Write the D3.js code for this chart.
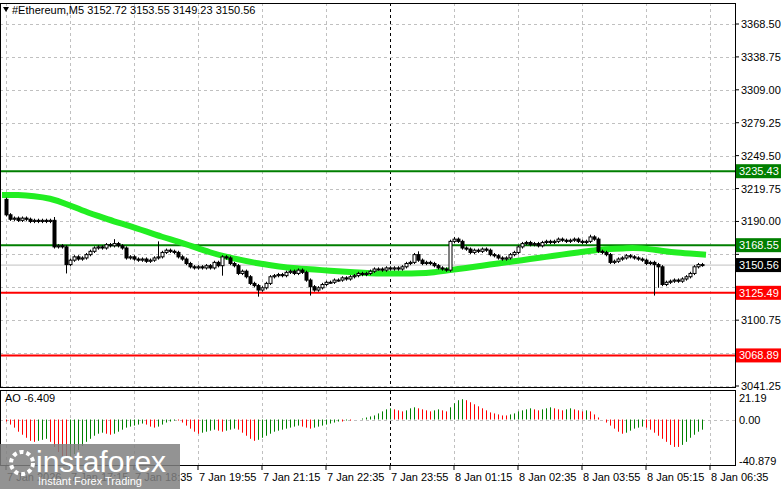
<!DOCTYPE html>
<html><head><meta charset="utf-8">
<script src="https://cdn.jsdelivr.net/npm/d3@7"></script>
<style>body{margin:0;background:#fff}svg{display:block;font-family:"Liberation Sans",Arial,sans-serif}</style>
</head><body><svg id="c" width="781" height="489"></svg>
<script>
const firstOpen = 3210;
const closes = [3196,3192,3193,3191,3193,3192,3190,3191,3190,3191,3190,3191,3167,3168,3167,3151,3155,3158,3156,3157,3160,3163,3166,3167,3166,3169,3168,3170,3168,3166,3157,3158,3156,3155,3156,3154,3155,3157,3158,3162,3164,3163,3162,3158,3156,3152,3149,3148,3149,3148,3150,3148,3153,3150,3158,3157,3152,3150,3143,3145,3140,3134,3132,3128,3130,3134,3140,3141,3142,3141,3144,3145,3143,3146,3144,3137,3131,3128,3130,3133,3135,3135,3137,3137,3139,3138,3140,3141,3143,3142,3143,3145,3147,3147,3146,3148,3147,3148,3147,3149,3152,3153,3160,3155,3152,3153,3152,3150,3148,3147,3146,3172,3174,3172,3166,3165,3162,3164,3163,3165,3164,3160,3159,3157,3156,3157,3160,3162,3167,3170,3171,3169,3170,3168,3171,3172,3171,3172,3174,3173,3172,3173,3174,3172,3171,3172,3176,3174,3163,3162,3160,3153,3154,3156,3157,3159,3158,3157,3156,3155,3152,3153,3151,3149,3133,3135,3136,3137,3136,3138,3140,3143,3149,3151,3150.56];
const wickSpikes = [[12,3194],[15,3143],[27,3174],[38,3172],[54,3141],[63,3122],[76,3123],[103,3163],[112,3176],[146,3178],[162,3123],[163,3130]];
const maKnots = [3214,3214,3213,3211,3206,3200,3195,3190,3186,3181,3176,3172,3167,3162,3158,3155,3152,3150,3148,3147,3146,3145,3144,3143,3143,3143,3143,3144,3146,3148,3150,3152,3154,3156,3158,3160,3162,3164,3165,3166,3166,3164,3162,3161,3160];
const ao = [-2,-5,-8,-12,-15,-18,-21,-22,-21,-20,-19,
 -22,-27,-32,-36,
 -38,-37,-34,-30,-26,
 -22,-19,-16,-14,-13,-14,-15,-14,-12,-10,-8,
 -7,-6,-5,-4,-5,-7,-8,-7,-5,-3,-2,-1,-1,
 -3,-6,-9,-12,-14,-13,-12,-11,-10,-11,-12,-11,
 -10,-9,-10,-13,-16,-19,-21,-20,-18,-16,-14,-12,
 -11,-10,-9,-8,-7,-6,-7,-8,-9,-8,-7,-6,-5,-4,-3,-2,-2,-1,-1,0,0,
 1,2,3,4,6,8,10,11,10,9,
 8,9,11,12,11,10,9,8,9,10,9,8,
 12,16,19,20,19,17,
 15,13,11,9,7,6,5,4,4,5,6,
 8,9,10,11,10,9,10,11,12,11,10,9,10,11,10,9,8,9,8,
 5,2,0,-3,-6,
 -9,-12,-14,-13,-11,-9,-8,-7,
 -8,-10,-13,-16,-19,-22,-25,-27,-27,-25,-22,
 -18,-15,-12,-10];
const priceTicks = [3368.50,3338.75,3309.00,3279.25,3249.50,3219.75,3190.00,3160.25,3130.50,3100.75,3071.00,3041.25];
const timeLabels = ["7 Jan 2026","7 Jan 17:15","7 Jan 18:35","7 Jan 19:55","7 Jan 21:15","7 Jan 22:35","7 Jan 23:55","8 Jan 01:15","8 Jan 02:35","8 Jan 03:55","8 Jan 05:15","8 Jan 06:35"];
const levels = [{v:3235.43,c:"#007f00"},{v:3168.55,c:"#007f00"},{v:3125.49,c:"#ff0000"},{v:3068.89,c:"#ff0000"}];
const lastPrice = 3150.56;
const aoTicks = [21.19,0,-40.879];

const svg = d3.select("#c");
const W = 735;
const x = d3.scaleLinear().domain([0,1]).range([6,10]);
const y = d3.scaleLinear().domain([3041.25,3368.5]).range([386,24]);
const ya = d3.scaleLinear().domain([-40.879,21.19]).range([461,398]);

const g = svg.append("g");
timeLabels.forEach((t,k)=>{const xx=Math.round(x(k*16))+0.5;
  g.append("line").attr("x1",xx).attr("x2",xx).attr("y1",3).attr("y2",388).attr("stroke",k==6?"#000":"#c0c0c0").attr("stroke-dasharray","3,3");
  g.append("line").attr("x1",xx).attr("x2",xx).attr("y1",391).attr("y2",465).attr("stroke",k==6?"#000":"#c0c0c0").attr("stroke-dasharray","3,3");
});
priceTicks.forEach(p=>{const yy=Math.round(y(p))+0.5;
  g.append("line").attr("x1",0).attr("x2",W).attr("y1",yy).attr("y2",yy).attr("stroke","#c0c0c0").attr("stroke-dasharray","3,3");});
{const yy=Math.round(ya(0))+0.5;
  g.append("line").attr("x1",0).attr("x2",W).attr("y1",yy).attr("y2",yy).attr("stroke","#c0c0c0").attr("stroke-dasharray","3,3");}

svg.append("line").attr("x1",0).attr("x2",W).attr("y1",y(lastPrice)).attr("y2",y(lastPrice)).attr("stroke","#c0c0c0");
levels.forEach(l=>svg.append("line").attr("x1",0).attr("x2",W).attr("y1",y(l.v)).attr("y2",y(l.v)).attr("stroke",l.c).attr("stroke-width",2));

svg.append("path").datum(maKnots).attr("fill","none").attr("stroke","#22ee22").attr("stroke-width",6)
  .attr("d",d3.line().x((d,i)=>x(i*4)-4).y(d=>y(d)).curve(d3.curveBasis));

const sp = new Map(wickSpikes);
const cg = svg.append("g");
closes.forEach((c,i)=>{
  const o = i==0?firstOpen:closes[i-1];
  let hi=Math.max(o,c)+1.5, lo=Math.min(o,c)-1.5;
  if(sp.has(i)){const v=sp.get(i); if(v>hi)hi=v; if(v<lo)lo=v;}
  const xx=Math.round(x(i))+0.5;
  cg.append("line").attr("x1",xx).attr("x2",xx).attr("y1",y(hi)).attr("y2",y(lo)).attr("stroke","#000");
  const top=y(Math.max(o,c)), h=Math.max(1,y(Math.min(o,c))-top);
  cg.append("rect").attr("x",xx-1.5).attr("y",top).attr("width",3).attr("height",h)
    .attr("fill",c>=o?"#fff":"#000").attr("stroke","#000").attr("stroke-width",1);
});

ao.forEach((v,i)=>{const xx=Math.round(x(i))+0.5; const up=i>0&&v>ao[i-1];
  svg.append("line").attr("x1",xx).attr("x2",xx).attr("y1",ya(0)).attr("y2",ya(v)).attr("stroke",up?"#008000":"#ff0000");});

svg.append("rect").attr("x",0.5).attr("y",3.5).attr("width",W).attr("height",384).attr("fill","none").attr("stroke","#000");
svg.append("rect").attr("x",0.5).attr("y",390.5).attr("width",W).attr("height",75).attr("fill","none").attr("stroke","#000");

const fs=11;
const tagVals = levels.map(l=>l.v).concat([lastPrice]);
priceTicks.forEach(p=>{const yy=y(p);
  svg.append("line").attr("x1",W).attr("x2",W+4).attr("y1",yy).attr("y2",yy).attr("stroke","#000");
  if(tagVals.some(v=>Math.abs(y(v)-yy)<11)) return;
  svg.append("text").attr("x",741).attr("y",yy+4).attr("font-size",fs).text(p.toFixed(2));});
aoTicks.forEach(p=>{svg.append("text").attr("x",739).attr("y",ya(p)+4).attr("font-size",fs).text(p===0?"0.00":String(p));});
function tag(v,bg){const yy=y(v);
  svg.append("rect").attr("x",736).attr("y",yy-7).attr("width",45).attr("height",14).attr("fill",bg);
  svg.append("text").attr("x",739).attr("y",yy+4).attr("font-size",fs).attr("fill","#fff").text(v.toFixed(2));}
levels.forEach(l=>tag(l.v,l.c));
tag(lastPrice,"#000");

timeLabels.forEach((t,k)=>{const xx=x(k*16);
  svg.append("line").attr("x1",xx).attr("x2",xx).attr("y1",466).attr("y2",470).attr("stroke","#000");
  svg.append("text").attr("x",xx+1).attr("y",481).attr("font-size",fs).text(t);});

svg.append("path").attr("d","M3,7 L9,7 L6,12 Z").attr("fill","#000");
svg.append("text").attr("x",12).attr("y",14).attr("font-size",fs).text("#Ethereum,M5  3152.72 3153.55 3149.23 3150.56");
svg.append("text").attr("x",5).attr("y",402).attr("font-size",fs).text("AO -6.409");

const lg=svg.append("g");
lg.append("rect").attr("x",0).attr("y",444).attr("width",180).attr("height",45).attr("fill","#808080").attr("opacity",0.85);
lg.append("circle").attr("cx",22).attr("cy",463).attr("r",11).attr("fill","none").attr("stroke","#fff").attr("stroke-width",4).attr("stroke-dasharray","4,3");
lg.append("text").attr("x",36).attr("y",472).attr("font-size",30).attr("fill","#fff").text("instaforex");
lg.append("text").attr("x",38).attr("y",485).attr("font-size",11).attr("fill","#fff").text("Instant Forex Trading");
</script></body></html>
